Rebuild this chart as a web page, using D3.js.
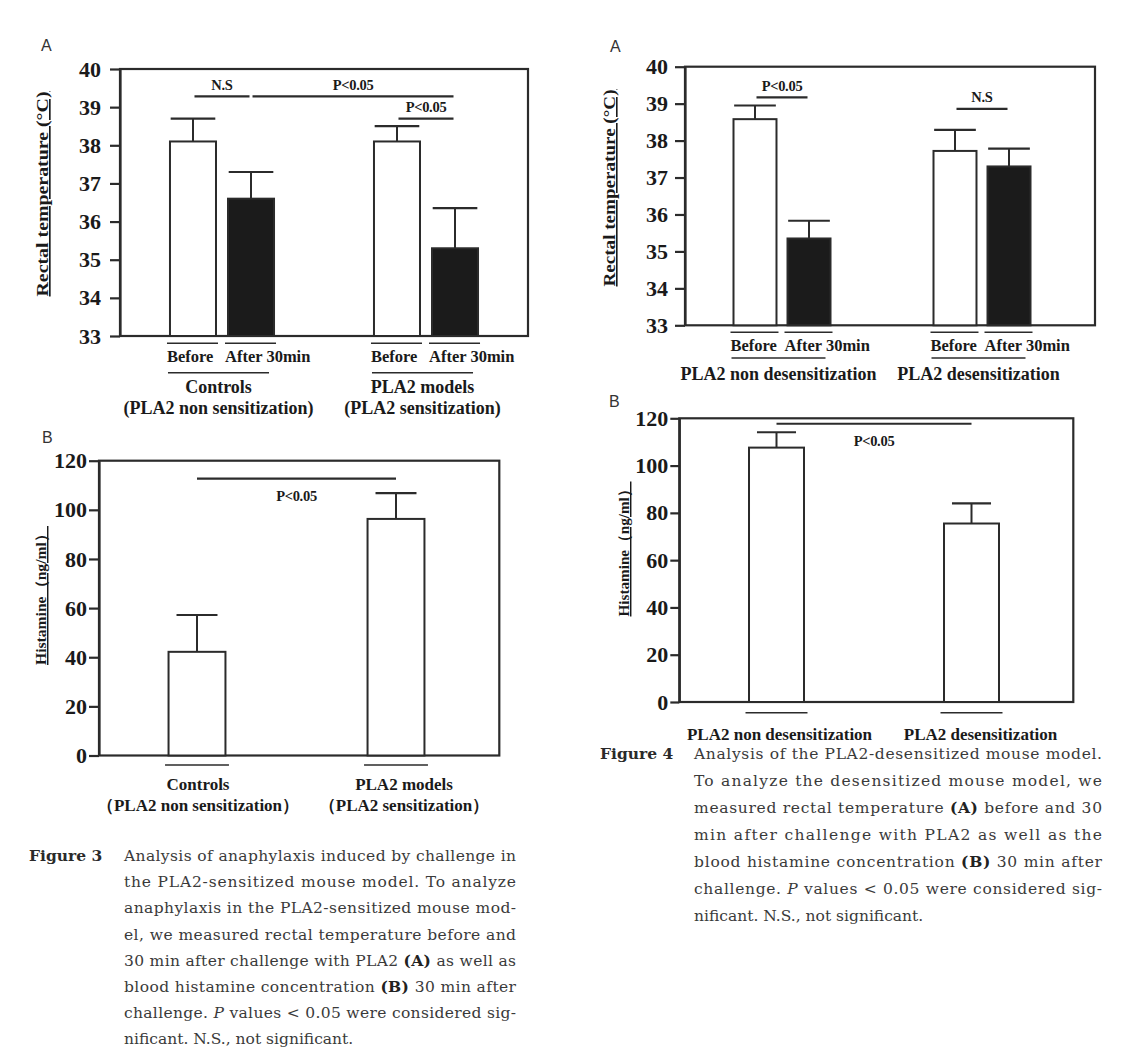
<!DOCTYPE html>
<html>
<head>
<meta charset="utf-8">
<script src="https://cdn.jsdelivr.net/npm/d3@7.9.0/dist/d3.min.js"></script>
<style>
  body { margin: 0; background: #fff; }
</style>
</head>
<body>
<svg id="fig" width="1134" height="1062"></svg>
<script>
// ---- data ----
const tempConditions = ["Before", "After 30min"];
const tempTicks = [33, 34, 35, 36, 37, 38, 39, 40];
const histTicks = [0, 20, 40, 60, 80, 100, 120];

// Figure 3A - rectal temperature, sensitized model
const fig3aGroups = ["Controls", "PLA2 models"];
const fig3aNotes = ["(PLA2 non sensitization)", "(PLA2 sensitization)"];
const fig3aMeans = [[38.1, 36.6], [38.1, 35.3]];
const fig3aSD = [[0.6, 0.7], [0.4, 1.05]];
const fig3aSig = [
  { from: [0, 0], to: [0, 1], at: 39.28, label: "N.S" },
  { from: [0, 1], to: [1, 1], at: 39.28, label: "P<0.05" },
  { from: [1, 0], to: [1, 1], at: 38.7, label: "P<0.05" }
];

// Figure 4A - rectal temperature, desensitized model
const fig4aGroups = ["PLA2 non desensitization", "PLA2 desensitization"];
const fig4aMeans = [[38.58, 35.35], [37.72, 37.3]];
const fig4aSD = [[0.37, 0.48], [0.57, 0.48]];
const fig4aSig = [
  { from: [0, 0], to: [0, 1], at: 39.17, label: "P<0.05" },
  { from: [1, 0], to: [1, 1], at: 38.86, label: "N.S" }
];

// Figure 3B - histamine, sensitized model
const fig3bGroups = ["Controls", "PLA2 models"];
const fig3bNotes = ["（PLA2 non sensitization）", "（PLA2 sensitization）"];
const fig3bMeans = [42.2, 96.3];
const fig3bSD = [15, 10.5];
const fig3bSig = [{ from: 0, to: 1, at: 112.7, label: "P<0.05" }];

// Figure 4B - histamine, desensitized model
const fig4bGroups = ["PLA2 non desensitization", "PLA2 desensitization"];
const fig4bMeans = [107.6, 75.5];
const fig4bSD = [6.5, 8.5];
const fig4bSig = [{ from: 0, to: 1, at: 117.7, label: "P<0.05" }];

// captions (**bold**, _italic_)
const fig3Caption = [
  "Analysis of anaphylaxis induced by challenge in",
  "the PLA2-sensitized mouse model. To analyze",
  "anaphylaxis in the PLA2-sensitized mouse mod-",
  "el, we measured rectal temperature before and",
  "30 min after challenge with PLA2 **(A)** as well as",
  "blood histamine concentration **(B)** 30 min after",
  "challenge. _P_ values < 0.05 were considered sig-",
  "nificant. N.S., not significant."
];
const fig4Caption = [
  "Analysis of the PLA2-desensitized mouse model.",
  "To analyze the desensitized mouse model, we",
  "measured rectal temperature **(A)** before and 30",
  "min after challenge with PLA2 as well as the",
  "blood histamine concentration **(B)** 30 min after",
  "challenge. _P_ values < 0.05 were considered sig-",
  "nificant. N.S., not significant."
];

// ---- layout ----
const SERIF = "'Liberation Serif', 'Times New Roman', serif";
const SANS = "'Liberation Sans', Arial, sans-serif";
const INK = "#2b2b2b";
const svg = d3.select("#fig");

const L3a = { left: 120, right: 528, top: 69, bottom: 336, range: [120, 528], padG: 0.49, padS: 0.207,
  tickLen: 10, tickPad: 9, titleX: 48, titleY: 194, titleLen: 205, titleSize: 16.5,
  letterX: 41, letterY: 51, underDy: 7.3, condDy: 26, groupLineDy: 36.7, groupDy: 57, noteDy: 78 };
const L4a = { left: 685, right: 1095, top: 66.7, bottom: 325.3, range: [682, 1082], padG: 0.515, padS: 0.204,
  tickLen: 10, tickPad: 7, titleX: 615, titleY: 188, titleLen: 197, titleSize: 16,
  letterX: 610, letterY: 52, underDy: 7, condDy: 25.5, groupLineDy: 32.7, groupDy: 55 };
const L3b = { left: 99, right: 499.3, top: 460.7, bottom: 755.5, range: [97.5, 495.5], padG: 0.714,
  tickLen: 10, tickPad: 2, titleX: 46, titleY: 595.5, titleLen: 139, titleSize: 14.5,
  letterX: 42, letterY: 443, underDy: 9.5, groupDy: 34.5, noteDy: 55.5, capRatio: 0.72, labelShift: [1, 8] };
const L4b = { left: 679.3, right: 1073.3, top: 418.3, bottom: 702, range: [679, 1069], padG: 0.718,
  tickLen: 9, tickPad: 2, titleX: 629, titleY: 549, titleLen: 135, titleSize: 14.5,
  letterX: 609, letterY: 407, underDy: 10.7, groupDy: 38, capRatio: 0.71, labelShift: [3, 9] };

function frame(g, L, y, ticks, title, letter) {
  g.append("rect")
    .attr("x", L.left).attr("y", L.top)
    .attr("width", L.right - L.left).attr("height", L.bottom - L.top)
    .attr("fill", "none").attr("stroke", INK).attr("stroke-width", 2.2);

  const ax = g.append("g")
    .attr("transform", `translate(${L.left},0)`)
    .call(d3.axisLeft(y).tickValues(ticks).tickFormat(d3.format("d"))
      .tickSize(L.tickLen).tickSizeOuter(0).tickPadding(L.tickPad));
  ax.select(".domain").attr("stroke", INK).attr("stroke-width", 2.2);
  ax.selectAll(".tick line").attr("stroke", INK).attr("stroke-width", 2.2);
  ax.selectAll(".tick text")
    .attr("font-family", SERIF).attr("font-size", 22).attr("font-weight", "bold").attr("fill", "#1a1a1a");

  g.append("text")
    .attr("transform", `translate(${L.titleX},${L.titleY}) rotate(-90)`)
    .attr("text-anchor", "middle")
    .attr("font-family", SERIF).attr("font-weight", "bold").attr("font-size", L.titleSize)
    .attr("fill", "#1a1a1a")
    .attr("text-decoration", "underline")
    .attr("textLength", L.titleLen).attr("lengthAdjust", "spacingAndGlyphs")
    .text(title);

  g.append("text")
    .attr("x", L.letterX).attr("y", L.letterY)
    .attr("font-family", SANS).attr("font-size", 16).attr("fill", "#333")
    .text(letter);
}

function line(g, x1, y1, x2, y2, w) {
  g.append("line").attr("x1", x1).attr("y1", y1).attr("x2", x2).attr("y2", y2)
    .attr("stroke", INK).attr("stroke-width", w || 2);
}

function label(g, x, y, txt, size, anchor) {
  return g.append("text").attr("x", x).attr("y", y)
    .attr("text-anchor", anchor || "middle")
    .attr("font-family", SERIF).attr("font-weight", "bold").attr("font-size", size)
    .attr("fill", "#1a1a1a").text(txt);
}

function drawBars(g, bars, y, L, capRatio) {
  bars.forEach(b => {
    g.append("rect")
      .attr("x", b.x).attr("y", y(b.mean))
      .attr("width", b.w).attr("height", L.bottom - y(b.mean))
      .attr("fill", b.dark ? "#1b1b1b" : "#fff")
      .attr("stroke", INK).attr("stroke-width", 2);
    const cx = b.x + b.w / 2, capW = b.w * capRatio;
    line(g, cx, y(b.mean), cx, y(b.mean + b.sd));
    line(g, cx - capW / 2, y(b.mean + b.sd), cx + capW / 2, y(b.mean + b.sd), 2.2);
  });
}

// grouped temperature panels (before / after)
function drawGrouped(cfg, L) {
  const g = svg.append("g");
  const y = d3.scaleLinear().domain(d3.extent(cfg.ticks)).range([L.bottom, L.top]);
  const xG = d3.scaleBand().domain(cfg.groups).range(L.range).paddingInner(L.padG).paddingOuter(L.padG / 2);
  const xS = d3.scaleBand().domain(tempConditions).range([0, xG.bandwidth()]).paddingInner(L.padS);

  frame(g, L, y, cfg.ticks, cfg.title, cfg.letter);

  const bars = [];
  cfg.groups.forEach((grp, gi) => tempConditions.forEach((cond, ci) => {
    bars.push({ gi, ci, cond, mean: cfg.means[gi][ci], sd: cfg.sd[gi][ci],
      x: xG(grp) + xS(cond), w: xS.bandwidth(), dark: ci === 1 });
  }));
  drawBars(g, bars, y, L, 0.97);

  const center = ([gi, ci]) => xG(cfg.groups[gi]) + xS(tempConditions[ci]) + xS.bandwidth() / 2;
  cfg.sig.forEach(s => {
    const x1 = center(s.from) + 1.5, x2 = center(s.to) - 1.5, yy = y(s.at);
    line(g, x1, yy, x2, yy, 2.2);
    label(g, (x1 + x2) / 2, yy - 6.5, s.label, 14.5).attr("letter-spacing", -0.3);
  });

  // labels under the axis
  bars.forEach(b => {
    line(g, b.x - 3, L.bottom + L.underDy, b.x + b.w + 2, L.bottom + L.underDy, 1.6);
    label(g, b.x - 3, L.bottom + L.condDy, b.cond, 16.5, "start");
  });
  cfg.groups.forEach((grp, gi) => {
    const x0 = xG(grp) - 2, x1 = xG(grp) + xG.bandwidth() - 5;
    line(g, x0, L.bottom + L.groupLineDy, x1, L.bottom + L.groupLineDy, 1.6);
    label(g, (x0 + x1) / 2, L.bottom + L.groupDy, grp, 18);
    if (cfg.notes) label(g, (x0 + x1) / 2, L.bottom + L.noteDy, cfg.notes[gi], 18);
  });
}

// single-bar histamine panels
function drawSimple(cfg, L) {
  const g = svg.append("g");
  const y = d3.scaleLinear().domain(d3.extent(cfg.ticks)).range([L.bottom, L.top]);
  const x = d3.scaleBand().domain(cfg.groups).range(L.range).paddingInner(L.padG).paddingOuter(L.padG / 2);

  frame(g, L, y, cfg.ticks, cfg.title, cfg.letter);

  const bars = cfg.groups.map((grp, i) => ({ grp, mean: cfg.means[i], sd: cfg.sd[i],
    x: x(grp), w: x.bandwidth(), dark: false }));
  drawBars(g, bars, y, L, L.capRatio);

  cfg.sig.forEach(s => {
    const x1 = x(cfg.groups[s.from]) + x.bandwidth() / 2, x2 = x(cfg.groups[s.to]) + x.bandwidth() / 2;
    const yy = y(s.at);
    line(g, x1, yy, x2, yy, 2.2);
    label(g, (x1 + x2) / 2, yy + 22, s.label, 14.5).attr("letter-spacing", -0.3);
  });

  bars.forEach((b, i) => {
    line(g, b.x - 3.5, L.bottom + L.underDy, b.x + b.w + 3.5, L.bottom + L.underDy, 1.6);
    const cx = b.x + b.w / 2 + L.labelShift[i];
    label(g, cx, L.bottom + L.groupDy, b.grp, 17);
    if (cfg.notes) label(g, cx, L.bottom + L.noteDy, cfg.notes[i], 17);
  });
}

function drawCaption(name, lines, C) {
  const font = "'DejaVu Serif', 'Liberation Serif', serif";
  svg.append("text").attr("x", C.labelX).attr("y", C.y0)
    .attr("font-family", font).attr("font-weight", "bold").attr("font-size", C.size)
    .attr("fill", "#2a2a2a").text(name);
  lines.forEach((ln, i) => {
    const t = svg.append("text").attr("x", C.textX).attr("y", C.y0 + i * C.dy)
      .attr("font-family", font).attr("font-size", C.size).attr("fill", "#3a3a3a");
    ln.split(/(\*\*[^*]+\*\*|_[^_]+_)/).filter(s => s.length).forEach(seg => {
      const sp = t.append("tspan");
      if (seg.startsWith("**")) sp.attr("font-weight", "bold").attr("fill", "#222").text(seg.slice(2, -2));
      else if (seg.startsWith("_")) sp.attr("font-style", "italic").text(seg.slice(1, -1));
      else sp.text(seg);
    });
    if (i < lines.length - 1) t.attr("textLength", C.width).attr("lengthAdjust", "spacing");
  });
}

drawGrouped({ groups: fig3aGroups, notes: fig3aNotes, means: fig3aMeans, sd: fig3aSD, sig: fig3aSig,
  ticks: tempTicks, title: "Rectal temperature (°C)", letter: "A" }, L3a);
drawGrouped({ groups: fig4aGroups, means: fig4aMeans, sd: fig4aSD, sig: fig4aSig,
  ticks: tempTicks, title: "Rectal temperature (°C)", letter: "A" }, L4a);
drawSimple({ groups: fig3bGroups, notes: fig3bNotes, means: fig3bMeans, sd: fig3bSD, sig: fig3bSig,
  ticks: histTicks, title: "Histamine（ng/ml）", letter: "B" }, L3b);
drawSimple({ groups: fig4bGroups, means: fig4bMeans, sd: fig4bSD, sig: fig4bSig,
  ticks: histTicks, title: "Histamine（ng/ml）", letter: "B" }, L4b);

drawCaption("Figure 3", fig3Caption, { labelX: 29, textX: 124, width: 392, y0: 861, dy: 26.2, size: 15.5 });
drawCaption("Figure 4", fig4Caption, { labelX: 600, textX: 694, width: 408, y0: 759, dy: 27, size: 15.5 });
</script>
</body>
</html>
